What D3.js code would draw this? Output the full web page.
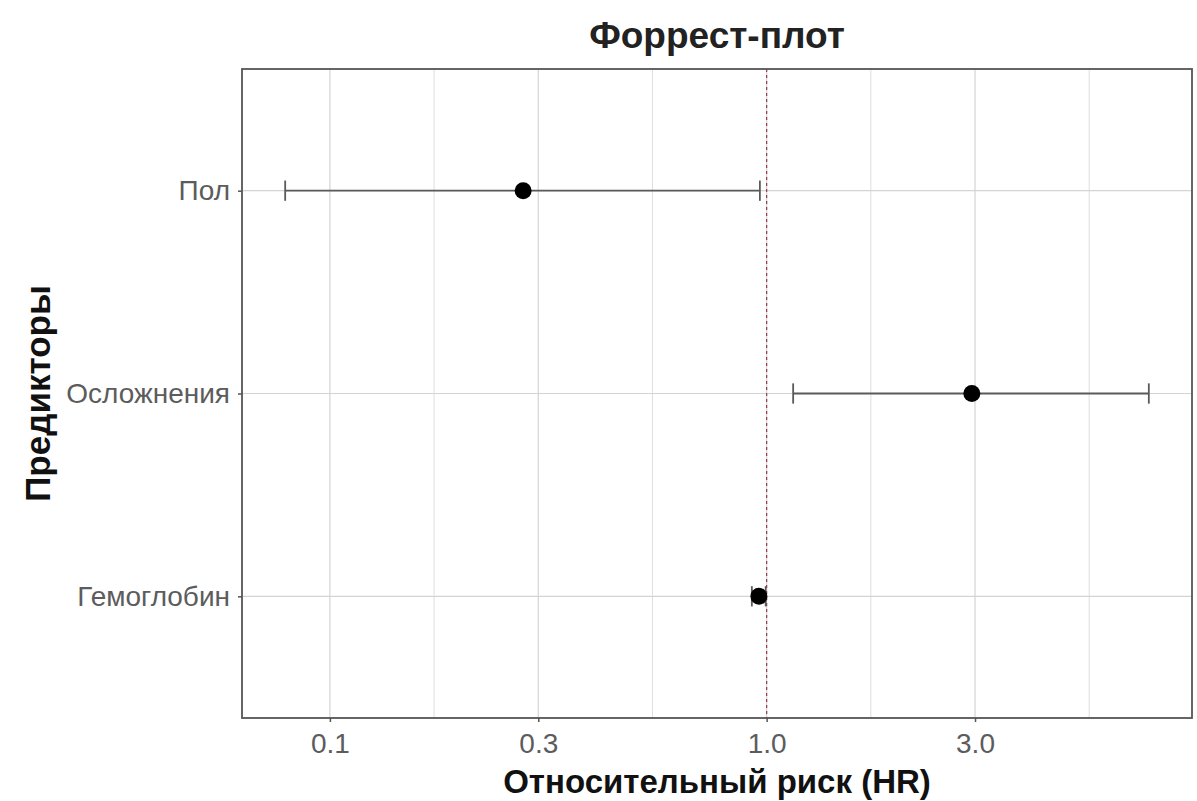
<!DOCTYPE html>
<html>
<head>
<meta charset="utf-8">
<script src="https://cdn.jsdelivr.net/npm/d3@7"></script>
<style>
  body { margin: 0; background: #fff; }
  svg { font-family: "Liberation Sans", Arial, sans-serif; }
</style>
</head>
<body>
<div class="forest"></div>
<script>
// data
var predictors = ["Пол", "Осложнения", "Гемоглобин"];
var hr = [0.277, 2.95, 0.96];
var ciLow = [0.079, 1.15, 0.925];
var ciHigh = [0.965, 7.5, 0.995];
var xTicks = [0.1, 0.3, 1.0, 3.0];

var width = 1197, height = 801;
var margin = { top: 69, right: 5, bottom: 83, left: 242 };
var plotW = width - margin.left - margin.right;
var plotH = height - margin.top - margin.bottom;

var svg = d3.select(".forest")
    .append("svg")
    .attr("width", width)
    .attr("height", height);

//log scale, 5% padding like ggplot
var lo = Math.log10(d3.min(ciLow)), hi = Math.log10(d3.max(ciHigh));
var pad = (hi - lo) * 0.05;
var x = d3.scaleLog()
    .domain([Math.pow(10, lo - pad), Math.pow(10, hi + pad)])
    .range([0, plotW]);

// first level at the bottom
var y = d3.scalePoint()
    .domain(predictors.slice().reverse())
    .range([plotH, 0])
    .padding(0.6);

var g = svg.append("g")
    .attr("transform", "translate(" + margin.left + "," + margin.top + ")");

//minor grid: midpoints between majors in log space
var allMajors = [0.03].concat(xTicks, [10]);
var minor = [];
for (var i = 0; i < allMajors.length - 1; i++) {
    var m = Math.pow(10, (Math.log10(allMajors[i]) + Math.log10(allMajors[i + 1])) / 2);
    if (m > x.domain()[0] && m < x.domain()[1]) minor.push(m);
}

g.selectAll("line.minor")
    .data(minor)
    .enter().append("line")
    .attr("x1", d => x(d)).attr("x2", d => x(d))
    .attr("y1", 0).attr("y2", plotH)
    .style("stroke", "#dedede")
    .style("stroke-width", 1);

g.selectAll("line.vgrid")
    .data(xTicks)
    .enter().append("line")
    .attr("x1", d => x(d)).attr("x2", d => x(d))
    .attr("y1", 0).attr("y2", plotH)
    .style("stroke", "#d4d4d4")
    .style("stroke-width", 1.2);

g.selectAll("line.hgrid")
    .data(predictors)
    .enter().append("line")
    .attr("x1", 0).attr("x2", plotW)
    .attr("y1", d => y(d)).attr("y2", d => y(d))
    .style("stroke", "#d4d4d4")
    .style("stroke-width", 1.2);

//reference line at HR = 1
g.append("line")
    .attr("x1", x(1)).attr("x2", x(1))
    .attr("y1", 0).attr("y2", plotH)
    .style("stroke", "#9a3a4a")
    .style("stroke-width", 1.2)
    .style("stroke-dasharray", "3,3");

//error bars
var rows = predictors.map((p, i) => ({ p: p, hr: hr[i], lo: ciLow[i], hi: ciHigh[i] }));
var cap = y.step() * 0.05;

g.selectAll("line.ci")
    .data(rows)
    .enter().append("line")
    .attr("x1", d => x(d.lo)).attr("x2", d => x(d.hi))
    .attr("y1", d => y(d.p)).attr("y2", d => y(d.p))
    .style("stroke", "#5a5a5a")
    .style("stroke-width", 1.8);

["lo", "hi"].forEach(function(k) {
    g.selectAll("line.cap-" + k)
        .data(rows)
        .enter().append("line")
        .attr("x1", d => x(d[k])).attr("x2", d => x(d[k]))
        .attr("y1", d => y(d.p) - cap).attr("y2", d => y(d.p) + cap)
        .style("stroke", "#5a5a5a")
        .style("stroke-width", 1.8);
});

g.selectAll("circle")
    .data(rows)
    .enter().append("circle")
    .attr("cx", d => x(d.hr))
    .attr("cy", d => y(d.p))
    .attr("r", 8.5)
    .style("fill", "#000");

//panel border
g.append("rect")
    .attr("width", plotW).attr("height", plotH)
    .style("fill", "none")
    .style("stroke", "#555")
    .style("stroke-width", 1.8);

//axes
var xAxis = g.append("g")
    .attr("transform", "translate(0," + plotH + ")")
    .call(d3.axisBottom(x).tickValues(xTicks).tickFormat(d3.format(".1f")).tickSize(4).tickPadding(11));
var yAxis = g.append("g")
    .call(d3.axisLeft(y).tickSize(4).tickPadding(8));

[xAxis, yAxis].forEach(function(a) {
    a.select(".domain").remove();
    a.selectAll(".tick line").style("stroke", "#555").style("stroke-width", 1.5);
    a.selectAll(".tick text")
        .style("fill", "#5c5c5c")
        .style("font-size", "28px")
        .style("font-family", "Liberation Sans, Arial, sans-serif");
});

//titles
svg.append("text")
    .attr("x", margin.left + plotW / 2)
    .attr("y", 48)
    .attr("text-anchor", "middle")
    .style("font-size", "37px")
    .style("font-weight", "bold")
    .style("fill", "#222")
    .text("Форрест-плот");

svg.append("text")
    .attr("x", margin.left + plotW / 2)
    .attr("y", 793)
    .attr("text-anchor", "middle")
    .style("font-size", "33px")
    .style("font-weight", "bold")
    .style("fill", "#111")
    .text("Относительный риск (HR)");

svg.append("text")
    .attr("transform", "translate(50," + (margin.top + plotH / 2) + ") rotate(-90)")
    .attr("text-anchor", "middle")
    .style("font-size", "35px")
    .style("font-weight", "bold")
    .style("fill", "#111")
    .text("Предикторы");
</script>
</body>
</html>
